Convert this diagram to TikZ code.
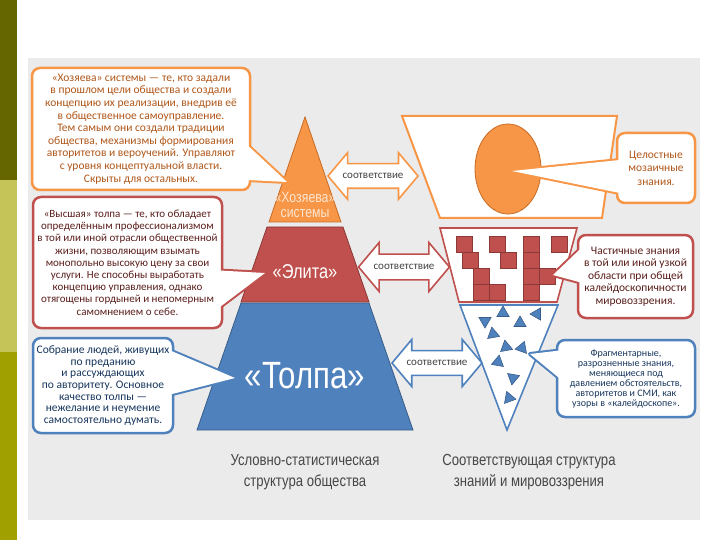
\documentclass[tikz,border=0pt]{standalone}
\usepackage{fontspec}
\setmainfont{Carlito}
\newfontfamily\narrowfont[FakeStretch=0.82]{Liberation Sans}
\usepackage{tikz}
\usetikzlibrary{shapes.arrows,calc}

\pgfdeclarelayer{pointers}
\pgfdeclarelayer{notes}
\pgfsetlayers{main,pointers,notes}

\definecolor{hozOrange}{HTML}{F79646}
\definecolor{hozLine}{HTML}{C96B24}
\definecolor{hozText}{HTML}{B0571A}
\definecolor{hozPale}{HTML}{FDE6D2}
\definecolor{eliRed}{HTML}{C0504D}
\definecolor{eliLine}{HTML}{8C3836}
\definecolor{eliText}{HTML}{5A1E1C}
\definecolor{tolBlue}{HTML}{4F81BD}
\definecolor{tolLine}{HTML}{385D8A}
\definecolor{tolText}{HTML}{17365D}
\definecolor{panelGray}{HTML}{EBEBEB}
\definecolor{stripDark}{HTML}{666600}
\definecolor{stripLight}{HTML}{C4C458}
\definecolor{stripMid}{HTML}{A0A000}
\definecolor{capGray}{HTML}{474747}

\begin{document}
\begin{tikzpicture}[x=1pt, y=-1pt,
    noteBox/.style={rounded corners=8pt, line width=2.5pt, fill=white, align=center, inner sep=1pt, font=\fontsize{11.5}{12.6}\selectfont},
    notePointer/.style={line width=4pt, line join=round, fill=white},
    matchArrow/.style={double arrow, double arrow tip angle=100, double arrow head extend=11pt, inner ysep=7pt, text height=7pt, text depth=2pt, fill=white, line width=1.6pt, font=\fontsize{11}{12}\selectfont, text=black!75},
    tierText/.style={text=white, align=center},
    brick/.style={fill=eliRed, draw=eliLine, line width=0.6pt},
    chip/.style={fill=tolBlue, draw=tolLine, line width=0.6pt}]

    % Page and panel
    \fill[white] (0,0) rectangle (720,540);
    \useasboundingbox (0,0) rectangle (720,540);
    \fill[stripDark] (0,0) rectangle (17,180);
    \fill[stripLight] (0,180) rectangle (17,352);
    \fill[stripMid] (0,352) rectangle (17,540);
    \fill[panelGray] (28,58) rectangle (700,520);

    % Pyramid
    \filldraw[fill=hozOrange, draw=hozLine, line width=0.8pt] (305,117) -- (341,222) -- (269,222) -- cycle;
    \filldraw[fill=eliRed, draw=eliLine, line width=0.8pt] (267,227) -- (343,227) -- (369,302) -- (241,302) -- cycle;
    \filldraw[fill=tolBlue, draw=tolLine, line width=0.8pt] (241,303) -- (369,303) -- (413,430) -- (197,430) -- cycle;

    \node[tierText, text=hozPale, font=\narrowfont\fontsize{15}{15}\selectfont] (hozLabel) at (305,205) {«Хозяева»\\системы};
    \node[tierText, font=\narrowfont\fontsize{20}{22}\selectfont] (eliLabel) at (305,272) {«Элита»};
    \node[tierText, font=\narrowfont\fontsize{38}{40}\selectfont] (tolLabel) at (305,376) {«Толпа»};

    % Inverted figure of knowledge
    \filldraw[fill=white, draw=hozOrange, line width=2pt] (402,116) -- (617,116) -- (602,218) -- (440,218) -- cycle;
    \filldraw[fill=hozOrange, draw=hozLine, line width=0.8pt] (508,169) ellipse [x radius=33pt, y radius=45pt];

    \filldraw[fill=white, draw=eliRed, line width=1.6pt] (440,228) -- (577,228) -- (557,302) -- (459,302) -- cycle;
    \foreach \bx/\by in {456/236, 489/236, 523/236, 551/236, 462/252, 500/252, 523/252,
                         473/268, 523/268, 539/268, 473/284, 489/284, 523/284}
        \draw[brick] (\bx,\by) rectangle ++(16,16);

    \filldraw[fill=white, draw=tolBlue, line width=1.6pt] (460,305) -- (558,305) -- (507,430) -- cycle;
    \foreach \cx/\cy/\ca in {485/321/90, 503/313/-90, 520/323/150, 537/314/-60, 493/334/20,
                             506/347/-100, 522/348/170, 498/362/40, 513/378/-20, 509/398/10}
        \draw[chip] (\cx,\cy) +(\ca:7) -- +(\ca+120:7) -- +(\ca+240:7) -- cycle;

    % Correspondence arrows
    \node[matchArrow, draw=hozOrange, minimum height=90pt, minimum width=45pt] (topMatch) at (373,176) {соответствие};
    \node[matchArrow, draw=eliRed, minimum height=85pt, minimum width=49pt] (midMatch) at (404,267) {соответствие};
    \node[matchArrow, draw=tolBlue, minimum height=85pt, minimum width=47pt] (lowMatch) at (437,363) {соответствие};

    % Pointer tips
    \coordinate (hozTip) at (287,182);
    \coordinate (eliTip) at (265,273);
    \coordinate (tolTip) at (235,378);
    \coordinate (wholeTip) at (512,171);
    \coordinate (partTip) at (553,275);
    \coordinate (fragTip) at (530,354);

    % Notes
    \begin{pgfonlayer}{notes}
    \node[noteBox, draw=hozOrange, text=hozText, minimum width=218pt, minimum height=122pt] (hozNote) at (141,129)
        {«Хозяева» системы — те, кто задали\\в прошлом цели общества и создали\\концепцию их реализации, внедрив её\\в общественное самоуправление.\\Тем самым они создали традиции\\общества, механизмы формирования\\авторитетов и вероучений. Управляют\\с уровня концептуальной власти.\\Скрыты для остальных.};
    \node[noteBox, draw=eliRed, text=eliText, minimum width=189pt, minimum height=131pt, font=\fontsize{11}{12.2}\selectfont] (eliNote) at (127.5,262.5)
        {«Высшая» толпа — те, кто обладает\\определённым профессионализмом\\в той или иной отрасли общественной\\жизни, позволяющим взымать\\монопольно высокую цену за свои\\услуги. Не способны выработать\\концепцию управления, однако\\отягощены гордыней и непомерным\\самомнением о себе.};
    \node[noteBox, draw=tolBlue, text=tolText, minimum width=140pt, minimum height=95pt, font=\fontsize{11.5}{11.7}\selectfont] (tolNote) at (103,385.5)
        {Собрание людей, живущих\\по преданию\\и рассуждающих\\по авторитету. Основное\\качество толпы —\\нежелание и неумение\\самостоятельно думать.};
    \node[noteBox, draw=hozOrange, text=hozText, minimum width=78pt, minimum height=70pt, font=\fontsize{11.5}{13.5}\selectfont] (wholeNote) at (656,168)
        {Целостные\\мозаичные\\знания.};
    \node[noteBox, draw=eliRed, text=eliText, minimum width=115pt, minimum height=83pt, font=\fontsize{11.5}{12.5}\selectfont] (partNote) at (635.5,276.5)
        {Частичные знания\\в той или иной узкой\\области при общей\\калейдоскопичности\\мировоззрения.};
    \node[noteBox, draw=tolBlue, text=tolText, minimum width=138pt, minimum height=77pt, font=\fontsize{10}{10}\selectfont] (fragNote) at (626,378.5)
        {Фрагментарные,\\разрозненные знания,\\меняющиеся под\\давлением обстоятельств,\\авторитетов и СМИ, как\\узоры в «калейдоскопе».};
    \end{pgfonlayer}

    % Pointers of the notes
    \begin{pgfonlayer}{pointers}
    \draw[notePointer, draw=hozOrange] ($(hozNote.east)+(-4,16)$) -- (hozTip) -- ($(hozNote.east)+(-4,51)$) -- cycle;
    \draw[notePointer, draw=eliRed] ($(eliNote.east)+(-4,8)$) -- (eliTip) -- ($(eliNote.east)+(-4,45)$) -- cycle;
    \draw[notePointer, draw=tolBlue] ($(tolNote.east)+(-4,-35)$) -- (tolTip) -- ($(tolNote.east)+(-4,9)$) -- cycle;
    \draw[notePointer, draw=hozOrange] ($(wholeNote.west)+(4,-8)$) -- (wholeTip) -- ($(wholeNote.west)+(4,25)$) -- cycle;
    \draw[notePointer, draw=eliRed] ($(partNote.west)+(4,-28)$) -- (partTip) -- ($(partNote.west)+(4,6)$) -- cycle;
    \draw[notePointer, draw=tolBlue] ($(fragNote.west)+(4,-28)$) -- (fragTip) -- ($(fragNote.west)+(4,0)$) -- cycle;
    \end{pgfonlayer}
    \begin{pgfonlayer}{notes}
    \fill[white] ($(hozNote.east)+(-4,16)$) -- (hozTip) -- ($(hozNote.east)+(-4,51)$) -- cycle;
    \fill[white] ($(eliNote.east)+(-4,8)$) -- (eliTip) -- ($(eliNote.east)+(-4,45)$) -- cycle;
    \fill[white] ($(tolNote.east)+(-4,-35)$) -- (tolTip) -- ($(tolNote.east)+(-4,9)$) -- cycle;
    \fill[white] ($(wholeNote.west)+(4,-8)$) -- (wholeTip) -- ($(wholeNote.west)+(4,25)$) -- cycle;
    \fill[white] ($(partNote.west)+(4,-28)$) -- (partTip) -- ($(partNote.west)+(4,6)$) -- cycle;
    \fill[white] ($(fragNote.west)+(4,-28)$) -- (fragTip) -- ($(fragNote.west)+(4,0)$) -- cycle;
    \end{pgfonlayer}

    % Captions
    \node[font=\narrowfont\fontsize{16}{21}\selectfont, text=capGray, align=center] (socCap) at (305,472) {Условно-статистическая\\структура общества};
    \node[font=\narrowfont\fontsize{16}{21}\selectfont, text=capGray, align=center] (knowCap) at (529,472) {Соответствующая структура\\знаний и мировоззрения};
\end{tikzpicture}
\end{document}
